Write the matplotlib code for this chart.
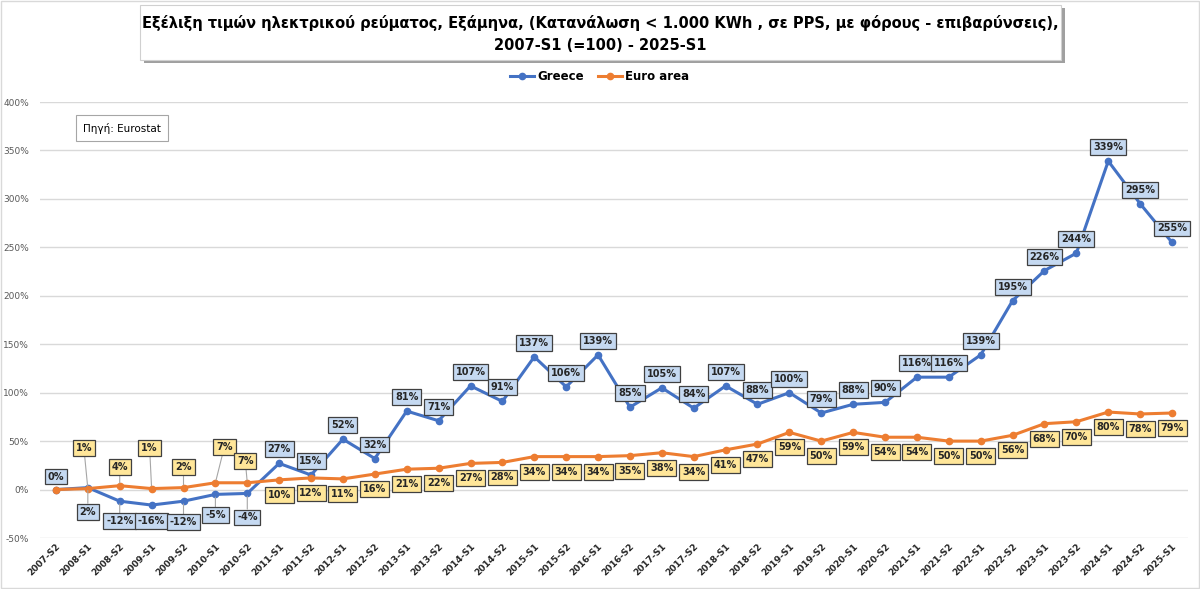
import matplotlib
matplotlib.use('Agg')
import matplotlib.pyplot as plt
from matplotlib.patches import Rectangle

periods = ['2007-S2', '2008-S1', '2008-S2', '2009-S1', '2009-S2', '2010-S1', '2010-S2',
           '2011-S1', '2011-S2', '2012-S1', '2012-S2', '2013-S1', '2013-S2', '2014-S1',
           '2014-S2', '2015-S1', '2015-S2', '2016-S1', '2016-S2', '2017-S1', '2017-S2',
           '2018-S1', '2018-S2', '2019-S1', '2019-S2', '2020-S1', '2020-S2', '2021-S1',
           '2021-S2', '2022-S1', '2022-S2', '2023-S1', '2023-S2', '2024-S1', '2024-S2',
           '2025-S1']
greece = [0, 2, -12, -16, -12, -5, -4, 27, 15, 52, 32, 81, 71, 107, 91, 137, 106, 139,
          85, 105, 84, 107, 88, 100, 79, 88, 90, 116, 116, 139, 195, 226, 244, 339, 295, 255]
euro = [0, 1, 4, 1, 2, 7, 7, 10, 12, 11, 16, 21, 22, 27, 28, 34, 34, 34, 35, 38, 34,
        41, 47, 59, 50, 59, 54, 54, 50, 50, 56, 68, 70, 80, 78, 79]

# label offsets in pixels (dx, dy), anything not listed uses the default
gr_off = {0: (0, 13), 1: (0, -24), 2: (0, -20), 3: (0, -16), 4: (0, -21), 5: (0, -21), 6: (0, -24)}
eu_off = {1: (-4, 41), 2: (0, 19), 3: (-2, 41), 4: (0, 21), 5: (9, 36), 6: (-2, 22)}

blue = '#4472C4'
orange = '#ED7D31'

fig = plt.figure(figsize=(12, 5.89), dpi=100)
ax = fig.add_axes([40 / 1200, 1 - 538 / 589, 1148 / 1200, 436 / 589])

x = list(range(len(periods)))
ax.plot(x, euro, color=orange, lw=2.2, marker='o', ms=4.5, label='Euro area', zorder=4)
ax.plot(x, greece, color=blue, lw=2.2, marker='o', ms=4.5, label='Greece', zorder=3)

for i, v in enumerate(greece):
    dx, dy = gr_off.get(i, (0, 14))
    arrow = dict(arrowstyle='-', color='#a6a6a6', lw=0.8, shrinkA=0, shrinkB=2) if abs(dy) > 18 else None
    ax.annotate(f'{v}%', xy=(i, v), xytext=(dx, dy), textcoords='offset pixels',
                ha='center', va='center', fontsize=7, fontweight='bold', color='#262626',
                bbox=dict(boxstyle='square,pad=0.3', fc='#C5D9F1', ec='#404040', lw=0.9),
                arrowprops=arrow, zorder=6)

for i, v in enumerate(euro):
    if i == 0:
        continue
    dx, dy = eu_off.get(i, (0, -15))
    arrow = dict(arrowstyle='-', color='#a6a6a6', lw=0.8, shrinkA=0, shrinkB=2) if abs(dy) > 18 else None
    ax.annotate(f'{v}%', xy=(i, v), xytext=(dx, dy), textcoords='offset pixels',
                ha='center', va='center', fontsize=7, fontweight='bold', color='#262626',
                bbox=dict(boxstyle='square,pad=0.3', fc='#FFE699', ec='#404040', lw=0.9),
                arrowprops=arrow, zorder=5)

ax.set_xlim(-0.5, len(periods) - 0.5)
ax.set_ylim(-50, 400)
ax.set_yticks(range(-50, 401, 50))
ax.set_yticklabels([f'{t}%' for t in range(-50, 401, 50)], fontsize=6.5, color='#595959')
ax.set_xticks(x)
ax.set_xticklabels(periods, rotation=45, ha='right', rotation_mode='anchor',
                   fontsize=6.5, fontweight='bold', color='#262626')
ax.tick_params(length=0, pad=3)
ax.tick_params(axis='y', pad=8)
ax.grid(axis='y', color='#d9d9d9', lw=1)
ax.set_axisbelow(True)
for s in ax.spines.values():
    s.set_visible(False)

# title box with shadow
fig.patches.append(Rectangle((144 / 1200, 1 - 63 / 589), 921 / 1200, 55 / 589,
                             transform=fig.transFigure, fc='#a0a0a0', ec='none', zorder=0))
fig.patches.append(Rectangle((140 / 1200, 1 - 60 / 589), 921 / 1200, 55 / 589,
                             transform=fig.transFigure, fc='white', ec='#d0d0d0', lw=0.8, zorder=1))
fig.text(0.5, 1 - 34 / 589,
         'Εξέλιξη τιμών ηλεκτρικού ρεύματος, Εξάμηνα, (Κατανάλωση < 1.000 KWh , σε PPS, με φόρους - επιβαρύνσεις),\n2007-S1 (=100) - 2025-S1',
         ha='center', va='center', fontsize=10.5, fontweight='bold', linespacing=1.6,
         zorder=2)

fig.legend(loc='center', bbox_to_anchor=(0.5, 1 - 77 / 589), ncol=2, frameon=False,
           prop={'size': 8.5, 'weight': 'bold'}, handlelength=2, columnspacing=1.2,
           handletextpad=0.3, handles=ax.get_lines()[::-1])

fig.text(122 / 1200, 1 - 128 / 589, 'Πηγή: Eurostat', ha='center', va='center', fontsize=7.5,
         bbox=dict(boxstyle='square,pad=0.7', fc='white', ec='#a6a6a6', lw=0.8))

fig.patches.append(Rectangle((0.001, 0.001), 0.998, 0.998, transform=fig.transFigure,
                             fc='none', ec='#d9d9d9', lw=1))

fig.savefig('out.png', dpi=100)
